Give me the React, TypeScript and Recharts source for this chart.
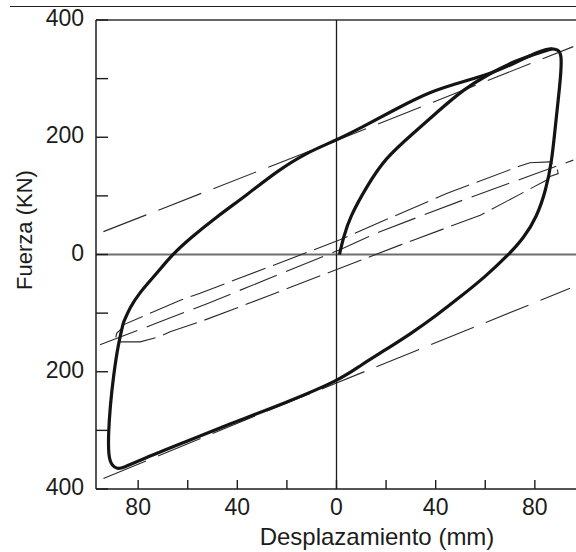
import { Line, LineChart, ReferenceLine, XAxis, YAxis } from 'recharts';

type Pt = [number, number];

// lazo principal (grueso), recorrido desde el codo inferior izquierdo
const envelope: Pt[] = [
  [-86, -117], [-83.3, -90], [-79.5, -66], [-75, -44], [-70.5, -22], [-66.4, -1],
  [-59.1, 27.6], [-48.3, 64.5], [-36.2, 101.5], [-24.1, 142], [-12, 174], [0, 195],
  [10.8, 218], [24.3, 249], [37.7, 278], [51, 295], [62, 308], [72.7, 328],
  [80.7, 345], [86, 352], [89.5, 350], [90.8, 340], [90.5, 310], [90, 286],
  [88.1, 212], [86.9, 161], [84.5, 110], [80.8, 64], [75.5, 28], [69.5, 0],
  [60, -38], [50, -72], [40, -105], [30, -135], [20, -162], [10, -188],
  [1.4, -214], [-20, -252], [-40, -284], [-60, -318], [-79, -350], [-86, -364],
  [-88.5, -366], [-90.6, -360], [-92, -345], [-92, -305], [-91.3, -260],
  [-90, -208], [-88, -152], [-86, -117],
];

// carga inicial desde el origen
const virgin: Pt[] = [
  [1.2, 0], [2.7, 28], [5.4, 64], [12.2, 116], [19.5, 164], [31, 207],
  [41.7, 247], [51.1, 281], [60.6, 306], [72.7, 332], [83.4, 346], [87, 351],
];

// ciclo pequeño (trazo fino)
const smallLoop: Pt[] = [
  [-89, -141], [-88.6, -134], [-86.6, -126], [-86, -120], [-63, -78], [-55, -66],
  [1.4, 25], [17.5, 55], [44.4, 104], [74, 151], [78, 156.6], [86, 158],
  [88.8, 150], [89.4, 138], [86.1, 133], [84.8, 127], [58, 67], [25.6, 16],
  [1.4, -23.5], [-38.9, -89], [-55, -114.7], [-67.1, -131.7], [-71.2, -140],
  [-79.2, -149], [-87.3, -149], [-89.3, -146], [-89, -141],
];

const secantUpper: Pt[] = [[-94, 39], [0, 194.5], [95.5, 354.6]];
const secantMid: Pt[] = [
  [-95.4, -154], [-72.5, -117], [-51.7, -83], [2.7, 10.5], [17.5, 39],
  [51.1, 93], [75.3, 130], [95.5, 161],
];
const secantLower: Pt[] = [[-94, -382], [-26.8, -265], [94.2, -57.7]];

const xTicks = [-80, -60, -40, -20, 0, 20, 40, 60, 80];
const yTicks = [-400, -300, -200, -100, 0, 100, 200, 300, 400];

const font = '"Liberation Sans", Arial, Helvetica, sans-serif';
const ink = '#1c1c1c';

const pts = (a: Pt[]) => a.map(([x, y]) => ({ x, y }));

function YTick(props: any) {
  const { y, payload } = props;
  const v = payload.value as number;
  return (
    <g>
      <line x1={96} x2={108} y1={y} y2={y} stroke={ink} strokeWidth={1.4} />
      {v % 200 === 0 && (
        <text x={84} y={y + 6} textAnchor="end" fontSize={23} fontFamily={font} fill={ink}>
          {Math.abs(v)}
        </text>
      )}
    </g>
  );
}

function XTick(props: any) {
  const { x, payload } = props;
  const v = payload.value as number;
  return (
    <g>
      <line x1={x} x2={x} y1={489} y2={480} stroke={ink} strokeWidth={1.4} />
      {v % 40 === 0 && (
        <text x={x} y={515} textAnchor="middle" fontSize={23} fontFamily={font} fill={ink}>
          {Math.abs(v)}
        </text>
      )}
    </g>
  );
}

export default function App() {
  return (
    <div style={{ position: 'relative', width: 576, height: 552, background: '#fff' }}>
      <style>{'body{margin:0}'}</style>
      <div
        style={{
          position: 'absolute',
          top: 6,
          left: 10,
          width: 566,
          borderTop: '1.5px solid #222',
        }}
      />
      <LineChart width={576} height={552} margin={{ top: 20, right: 0, bottom: 0, left: 0 }}>
        <XAxis
          type="number"
          dataKey="x"
          domain={[-97, 96.6]}
          ticks={xTicks}
          interval={0}
          allowDataOverflow
          height={63}
          tickLine={false}
          tick={XTick}
          axisLine={{ stroke: ink, strokeWidth: 1.5 }}
          label={{
            value: 'Desplazamiento (mm)',
            content: () => (
              <text x={377} y={545} textAnchor="middle" fontSize={24} fontFamily={font} fill={ink}>
                Desplazamiento (mm)
              </text>
            ),
          }}
        />
        <YAxis
          type="number"
          dataKey="y"
          domain={[-400, 400]}
          ticks={yTicks}
          interval={0}
          allowDataOverflow
          width={96}
          tickLine={false}
          tick={YTick}
          axisLine={{ stroke: ink, strokeWidth: 1.5 }}
          label={{
            value: 'Fuerza (KN)',
            content: () => (
              <text
                x={32}
                y={230}
                transform="rotate(-90 32 230)"
                textAnchor="middle"
                fontSize={22}
                fontFamily={font}
                fill={ink}
              >
                Fuerza (KN)
              </text>
            ),
          }}
        />
        <ReferenceLine y={400} stroke="#333" strokeWidth={1.3} />
        <ReferenceLine y={0} stroke="#6e6e6e" strokeWidth={2} />
        <ReferenceLine x={0} stroke={ink} strokeWidth={1.3} />

        <Line data={pts(secantUpper)} dataKey="y" type="linear" stroke="#2a2a2a" strokeWidth={1.1}
          strokeDasharray="46 13" dot={false} activeDot={false} isAnimationActive={false} />
        <Line data={pts(secantMid)} dataKey="y" type="linear" stroke="#2a2a2a" strokeWidth={1.1}
          strokeDasharray="40 10" dot={false} activeDot={false} isAnimationActive={false} />
        <Line data={pts(secantLower)} dataKey="y" type="linear" stroke="#2a2a2a" strokeWidth={1.1}
          strokeDasharray="46 13" dot={false} activeDot={false} isAnimationActive={false} />
        <Line data={pts(smallLoop)} dataKey="y" type="linear" stroke="#2a2a2a" strokeWidth={1.1}
          strokeDasharray="36 8" dot={false} activeDot={false} isAnimationActive={false} />
        <Line data={pts(virgin)} dataKey="y" type="basis" stroke="#141414" strokeWidth={3.2}
          dot={false} activeDot={false} isAnimationActive={false} />
        <Line data={pts(envelope)} dataKey="y" type="basis" stroke="#141414" strokeWidth={3.2}
          dot={false} activeDot={false} isAnimationActive={false} />
      </LineChart>
    </div>
  );
}
